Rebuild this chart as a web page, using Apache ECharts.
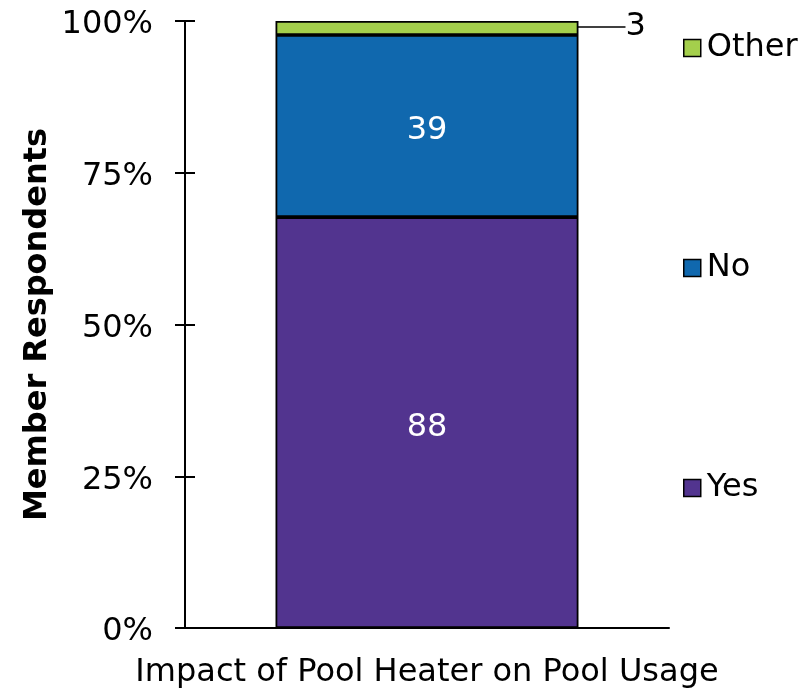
<!DOCTYPE html>
<html>
<head>
<meta charset="utf-8">
<script src="https://cdn.jsdelivr.net/npm/echarts@6/dist/echarts.min.js"></script>
<style>
  body, html { margin: 0; padding: 0; width: 100%; height: 100%; overflow: hidden; background: #fff; }
  #chart { width: 808px; height: 689px; }
</style>
</head>
<body>
<div id="chart"></div>
<script>
  var categories = ['Impact of Pool Heater on Pool Usage'];
  var seriesNames = ['Yes', 'No', 'Other'];
  var counts = [88, 39, 3];
  var colors = ['#52348f', '#1068ae', '#a4cf4c'];
  var yTicks = [0, 25, 50, 75, 100];

  var total = counts.reduce(function (a, b) { return a + b; }, 0);
  var font = 'DejaVu Sans';
  var fs = 32;

  var series = seriesNames.map(function (name, i) {
    var s = {
      name: name,
      type: 'bar',
      stack: 'all',
      barWidth: '62.6%',
      data: [counts[i] / total * 100],
      itemStyle: { color: colors[i], borderColor: '#000', borderWidth: 1.8 },
      label: {
        show: true,
        position: 'inside',
        offset: [0, 5],
        color: '#fff',
        fontFamily: font,
        fontSize: fs,
        formatter: function () { return counts[i]; }
      }
    };
    if (name === 'Other') {
      s.label = {
        show: true,
        position: 'right',
        color: '#000',
        fontFamily: font,
        fontSize: fs,
        formatter: function () { return counts[i]; }
      };
      s.labelLayout = { dx: 42, dy: -1 };
      s.labelLine = { show: true, lineStyle: { color: '#000', width: 1.5 } };
    }
    return s;
  });

  var legendTops = { Other: 27, No: 247, Yes: 467 };
  var legends = seriesNames.map(function (name) {
    return {
      data: [name],
      left: 678,
      top: legendTops[name],
      itemWidth: 17,
      itemHeight: 17,
      icon: 'rect',
      itemStyle: { borderColor: '#000', borderWidth: 1.5 },
      textStyle: { fontFamily: font, fontSize: fs, color: '#000', padding: [0, 0, 0, 1] },
      selectedMode: false
    };
  });

  var chart = echarts.init(document.getElementById('chart'), null, { renderer: 'canvas' });
  chart.setOption({
    animation: false,
    backgroundColor: '#fff',
    legend: legends,
    grid: { left: 185, right: 139, top: 21, bottom: 61, outerBoundsMode: 'none', containLabel: false },
    xAxis: {
      type: 'category',
      data: categories,
      axisLabel: { show: false },
      axisTick: { show: false },
      axisLine: { lineStyle: { color: '#000', width: 2 } },
      name: categories[0],
      nameLocation: 'middle',
      nameGap: 29,
      nameMoveOverlap: false,
      nameTextStyle: { fontFamily: font, fontSize: fs, color: '#000' }
    },
    yAxis: [{
      type: 'value',
      min: yTicks[0],
      max: yTicks[yTicks.length - 1],
      interval: 25,
      splitLine: { show: false },
      axisLine: { show: true, lineStyle: { color: '#000', width: 2 } },
      axisTick: { show: true, length: 10, lineStyle: { color: '#000', width: 2 } },
      axisLabel: { formatter: '{value}%', fontFamily: font, fontSize: fs, color: '#000', margin: 32, verticalAlign: 'top', lineHeight: 8 },
      name: 'Member Respondents',
      nameLocation: 'middle',
      nameGap: 147,
      nameMoveOverlap: false,
      nameTextStyle: { fontFamily: font, fontSize: fs, fontWeight: 'bold', color: '#000', verticalAlign: 'middle' }
    }, {
      type: 'value',
      position: 'left',
      min: yTicks[0],
      max: yTicks[yTicks.length - 1],
      interval: 25,
      splitLine: { show: false },
      axisLine: { show: false },
      axisTick: { show: true, inside: true, length: 10, lineStyle: { color: '#000', width: 2 } },
      axisLabel: { show: false }
    }],
    series: series
  });
</script>
</body>
</html>
